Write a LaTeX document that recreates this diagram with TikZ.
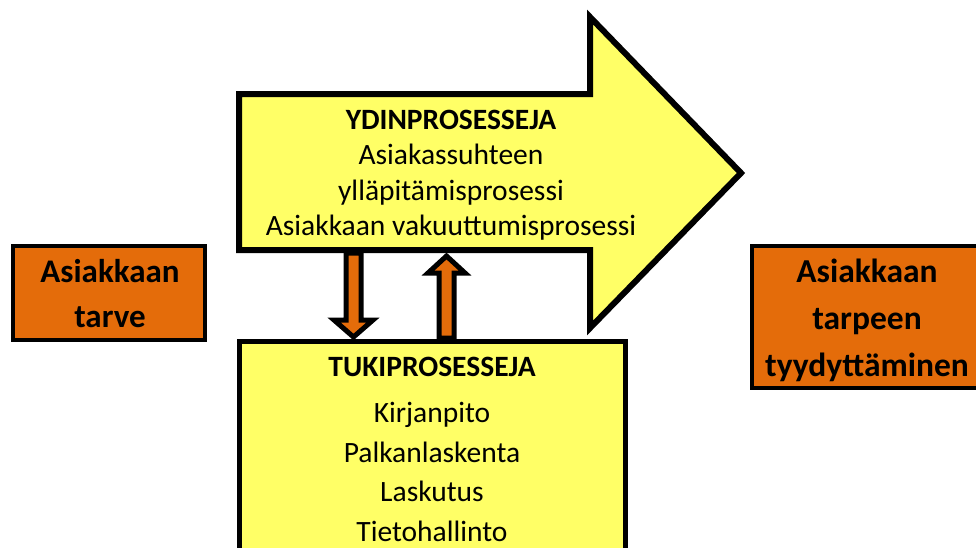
\documentclass[tikz,border=0pt]{standalone}
\usepackage{fontspec}
\setmainfont{Carlito}
\definecolor{yel}{RGB}{255,255,102}
\definecolor{org}{RGB}{228,108,10}
\begin{document}
\begin{tikzpicture}[x=1pt,y=-1pt,
  bigshape/.style={draw=black,fill=yel,line width=6pt,miter limit=20},
  orgbox/.style={draw=black,fill=org,line width=4.5pt},
  blockarrow/.style={draw=black,fill=org,line width=5pt,miter limit=20},
  txt/.style={inner sep=0pt,align=center,text=black}]
\useasboundingbox (0,0) rectangle (976,547);
% big arrow
\path[bigshape] (239,94) -- (590,94) -- (590,17) -- (741,173) -- (590,328) -- (590,250) -- (239,250) -- cycle;
\node[txt,anchor=north,font=\fontsize{29.5}{35.6}\selectfont] (core) at (451,109.5)
  {\textbf{YDINPROSESSEJA}\\Asiakassuhteen\\ylläpitämisprosessi\\Asiakkaan vakuuttumisprosessi};
% bottom box
\path[draw=black,fill=yel,line width=5pt] (239,341) rectangle (625,560);
\node[txt,anchor=north,font=\fontsize{29.5}{39.5}\selectfont] (support) at (432,356.5)
  {\textbf{TUKIPROSESSEJA}\\[7pt]Kirjanpito\\Palkanlaskenta\\Laskutus\\Tietohallinto};
% small arrows
\path[blockarrow] (346,253) -- (361,253) -- (361,320) -- (373,320) -- (353.5,337) -- (334,320) -- (346,320) -- cycle;
\path[blockarrow] (439,338) -- (454,338) -- (454,273) -- (465,273) -- (446.5,256) -- (428,273) -- (439,273) -- cycle;
% orange boxes
\path[orgbox] (13,246) rectangle (205,340);
\node[txt,anchor=north,font=\fontsize{33}{45}\selectfont\bfseries] (need) at (110,259)
  {Asiakkaan\\tarve};
\path[orgbox] (752,246) rectangle (985,388);
\node[txt,anchor=north,font=\fontsize{33.5}{47}\selectfont\bfseries] (satisf) at (867,259)
  {Asiakkaan\\tarpeen\\tyydyttäminen};
\end{tikzpicture}
\end{document}
